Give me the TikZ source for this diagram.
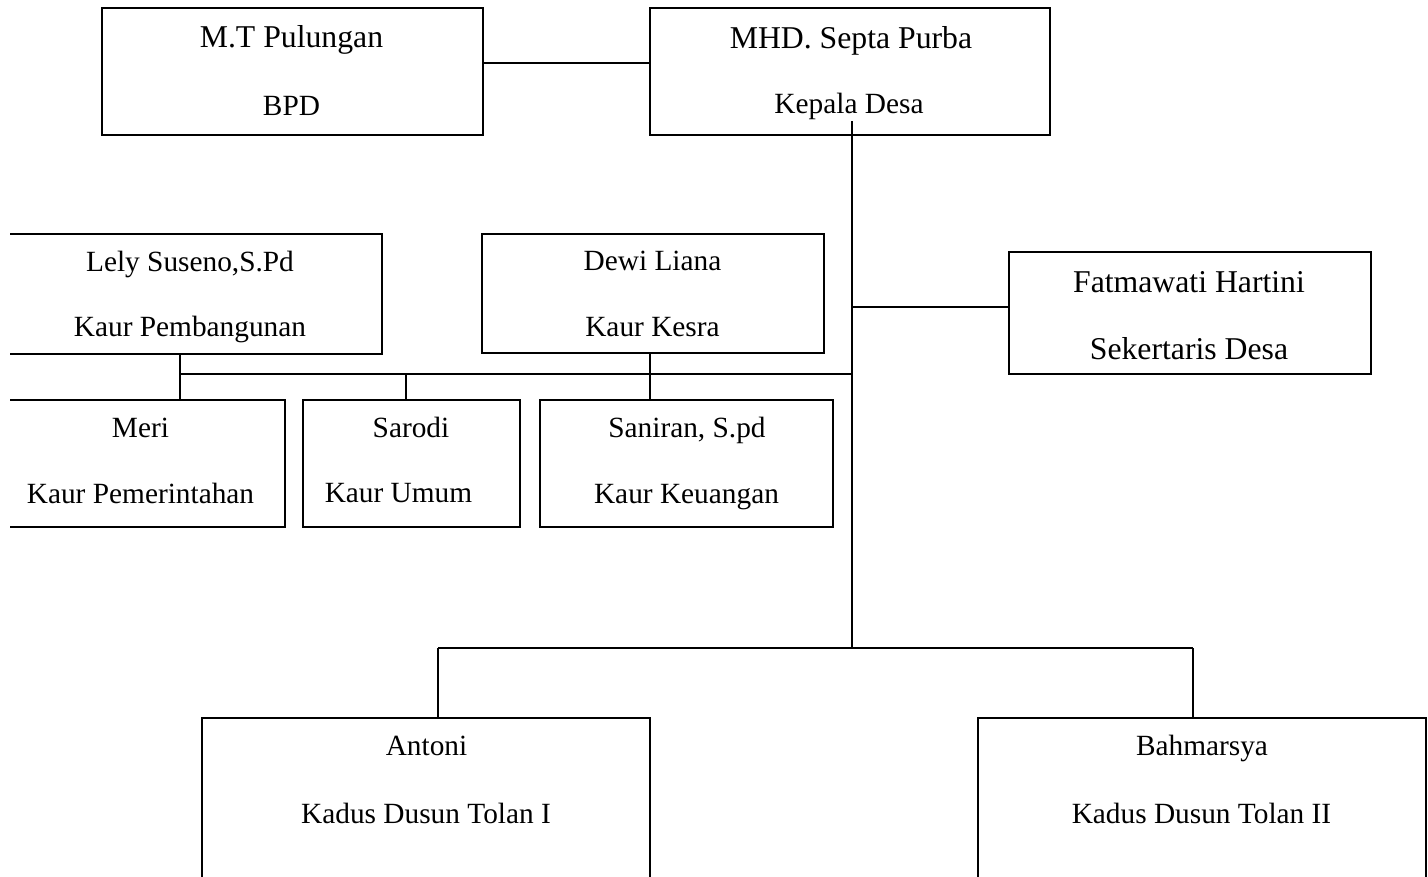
\documentclass[tikz,border=0pt]{standalone}
\usepackage{fontspec}
\setmainfont{Liberation Serif}
\usetikzlibrary{fit}
\begin{document}
\begin{tikzpicture}[x=0.75pt,y=-0.75pt,
  box/.style={draw=black, line width=1.5pt, inner sep=0pt, rectangle},
  conn/.style={draw=black, line width=1.3pt},
  txt/.style={anchor=base, inner sep=0pt, font=\fontsize{22}{26}\selectfont},
  bigtxt/.style={anchor=base, inner sep=0pt, font=\fontsize{23.8}{28}\selectfont}]
\useasboundingbox (0,0) rectangle (1428,876);
\clip (10,0) rectangle (1428,876);

% boxes
\node[box, fit={(102,8) (483,135)}] (bpd) {};
\node[box, fit={(650,8) (1050,135)}] (kd) {};
\node[box, fit={(1009,252) (1371,374)}] (sek) {};
\node[box, fit={(-2,234) (382,354)}] (lely) {};
\node[box, fit={(482,234) (824,353)}] (dewi) {};
\node[box, fit={(-4,400) (285,527)}] (meri) {};
\node[box, fit={(303,400) (520,527)}] (sarodi) {};
\node[box, fit={(540,400) (833,527)}] (saniran) {};
\node[box, fit={(202,718) (650,950)}] (antoni) {};
\node[box, fit={(978,718) (1426,950)}] (bahm) {};

% texts
\node[bigtxt] (t1a) at (291.5,47) {M.T Pulungan};
\node[txt] (t1b) at (291.5,115) {BPD};
\node[bigtxt] (t2a) at (851,48) {MHD. Septa Purba};
\node[txt] (t2b) at (849,113) {Kepala Desa};
\node[bigtxt] (t3a) at (1189,292) {Fatmawati Hartini};
\node[bigtxt] (t3b) at (1189,359) {Sekertaris Desa};
\node[txt] (t4a) at (190,271) {Lely Suseno,S.Pd};
\node[txt] (t4b) at (190,336) {Kaur Pembangunan};
\node[txt] (t5a) at (652.5,270) {Dewi Liana};
\node[txt] (t5b) at (652.5,336) {Kaur Kesra};
\node[txt] (t6a) at (140.5,437) {Meri};
\node[txt] (t6b) at (140.5,503) {Kaur Pemerintahan};
\node[txt] (t7a) at (411,437) {Sarodi};
\node[txt] (t7b) at (398.5,502) {Kaur Umum};
\node[txt] (t8a) at (687,437) {Saniran, S.pd};
\node[txt] (t8b) at (686.5,503) {Kaur Keuangan};
\node[txt] (t9a) at (426.5,755) {Antoni};
\node[txt] (t9b) at (426,823) {Kadus Dusun Tolan I};
\node[txt] (t10a) at (1202,755) {Bahmarsya};
\node[txt] (t10b) at (1201.5,823) {Kadus Dusun Tolan II};

% junction coordinates
\coordinate (cbpd) at (0,63);
\coordinate (vtop) at (852,121);
\coordinate (jsek) at (852,307);
\coordinate (jh) at (852,374);
\coordinate (vbot) at (852,648);
\coordinate (jl) at (180,374);
\coordinate (js) at (406,374);
\coordinate (jd) at (650,374);
\coordinate (ja) at (438,648);
\coordinate (jb) at (1193,648);

% connectors
\draw[conn] (bpd.east |- cbpd) -- (kd.west |- cbpd);
\draw[conn] (vtop) -- (vbot);
\draw[conn] (jsek) -- (sek.west |- jsek);
\draw[conn] (jl) -- (jh);
\draw[conn] (lely.south -| jl) -- (meri.north -| jl);
\draw[conn] (js) -- (sarodi.north -| js);
\draw[conn] (dewi.south -| jd) -- (saniran.north -| jd);
\draw[conn] (ja) -- (jb);
\draw[conn] (ja) -- (antoni.north -| ja);
\draw[conn] (jb) -- (bahm.north -| jb);
\end{tikzpicture}
\end{document}
